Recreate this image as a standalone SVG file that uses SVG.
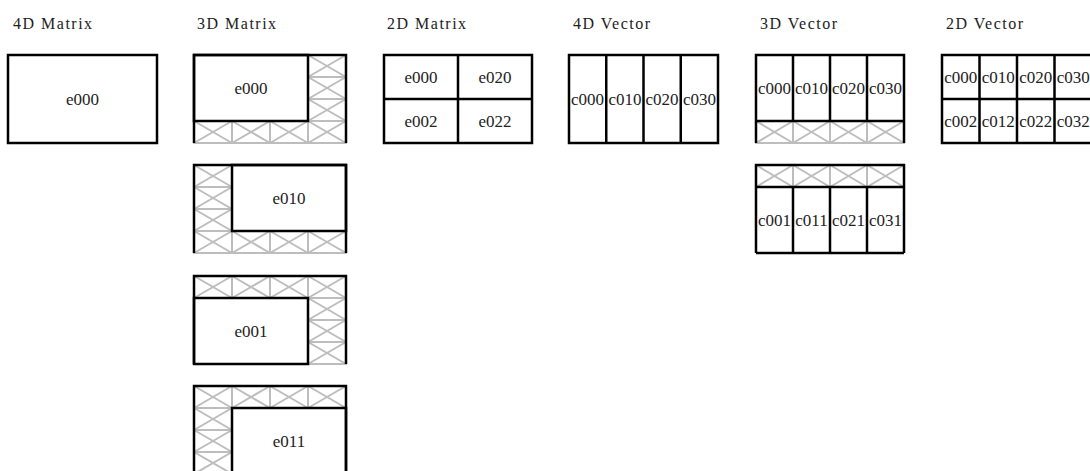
<svg xmlns="http://www.w3.org/2000/svg" xmlns:xlink="http://www.w3.org/1999/xlink" width="1090" height="471" viewBox="0 0 1090 471">
<style>
.bg{fill:#fff}
.k{fill:none;stroke:#000;stroke-width:2.5}
.g{fill:none;stroke:#bdbdbd;stroke-width:2}
.t{font-family:"Liberation Serif","DejaVu Serif",serif;font-size:16px;fill:#222;letter-spacing:1.5px}
.c{font-family:"Liberation Serif","DejaVu Serif",serif;font-size:17px;fill:#222;text-anchor:middle;dominant-baseline:central}
</style>
<defs>
<path id="h38" class="g" d="M0,0h38v22h-38zM0,0L38,22M38,0L0,22"/>
<path id="h37" class="g" d="M0,0h37v22h-37zM0,0L37,22M37,0L0,22"/>
</defs>
<rect class="bg" width="1090" height="471"/>

<g id="titles">
<text class="t" x="13" y="29">4D Matrix</text>
<text class="t" x="197" y="29">3D Matrix</text>
<text class="t" x="387" y="29">2D Matrix</text>
<text class="t" x="573" y="29">4D Vector</text>
<text class="t" x="760" y="29">3D Vector</text>
<text class="t" x="946" y="29">2D Vector</text>
</g>

<g id="m4">
<rect class="k" x="8" y="55" width="149" height="88"/>
<text class="c" x="82.5" y="99">e000</text>
</g>

<g id="m3-e000">
<use xlink:href="#h38" x="308" y="55"/><use xlink:href="#h38" x="308" y="77"/><use xlink:href="#h38" x="308" y="99"/>
<use xlink:href="#h38" x="194" y="121"/><use xlink:href="#h38" x="232" y="121"/><use xlink:href="#h38" x="270" y="121"/><use xlink:href="#h38" x="308" y="121"/>
<rect class="k" x="194" y="55" width="114" height="66"/>
<path class="k" d="M194,143V55H346V143"/>
<text class="c" x="251" y="88">e000</text>
</g>

<g id="m3-e010">
<use xlink:href="#h38" x="194" y="165"/><use xlink:href="#h38" x="194" y="187"/><use xlink:href="#h38" x="194" y="209"/>
<use xlink:href="#h38" x="194" y="231"/><use xlink:href="#h38" x="232" y="231"/><use xlink:href="#h38" x="270" y="231"/><use xlink:href="#h38" x="308" y="231"/>
<rect class="k" x="232" y="165" width="114" height="66"/>
<path class="k" d="M194,253V165H346V253"/>
<text class="c" x="289" y="198">e010</text>
</g>

<g id="m3-e001">
<use xlink:href="#h38" x="194" y="276"/><use xlink:href="#h38" x="232" y="276"/><use xlink:href="#h38" x="270" y="276"/><use xlink:href="#h38" x="308" y="276"/>
<use xlink:href="#h38" x="308" y="298"/><use xlink:href="#h38" x="308" y="320"/><use xlink:href="#h38" x="308" y="342"/>
<rect class="k" x="194" y="298" width="114" height="66"/>
<path class="k" d="M194,364V276H346V364"/>
<text class="c" x="251" y="331">e001</text>
</g>

<g id="m3-e011">
<use xlink:href="#h38" x="194" y="386"/><use xlink:href="#h38" x="232" y="386"/><use xlink:href="#h38" x="270" y="386"/><use xlink:href="#h38" x="308" y="386"/>
<use xlink:href="#h38" x="194" y="408"/><use xlink:href="#h38" x="194" y="430"/><use xlink:href="#h38" x="194" y="452"/>
<rect class="k" x="232" y="408" width="114" height="66"/>
<path class="k" d="M194,474V386H346V474"/>
<text class="c" x="289" y="441">e011</text>
</g>

<g id="m2">
<rect class="k" x="384" y="55" width="148" height="88"/>
<path class="k" d="M458,55V143M384,99H532"/>
<text class="c" x="421" y="77">e000</text>
<text class="c" x="495" y="77">e020</text>
<text class="c" x="421" y="121">e002</text>
<text class="c" x="495" y="121">e022</text>
</g>

<g id="v4">
<rect class="k" x="569" y="55" width="149" height="88"/>
<path class="k" d="M606.25,55V143M643.5,55V143M680.75,55V143"/>
<text class="c" x="587.6" y="99">c000</text>
<text class="c" x="624.9" y="99">c010</text>
<text class="c" x="662.1" y="99">c020</text>
<text class="c" x="699.4" y="99">c030</text>
</g>

<g id="v3-a">
<use xlink:href="#h37" x="756" y="121"/><use xlink:href="#h37" x="793" y="121"/><use xlink:href="#h37" x="830" y="121"/><use xlink:href="#h37" x="867" y="121"/>
<path class="k" d="M756,143V55H904V143M756,121H904M793,55V121M830,55V121M867,55V121"/>
<text class="c" x="774.5" y="88">c000</text>
<text class="c" x="811.5" y="88">c010</text>
<text class="c" x="848.5" y="88">c020</text>
<text class="c" x="885.5" y="88">c030</text>
</g>

<g id="v3-b">
<use xlink:href="#h37" x="756" y="165"/><use xlink:href="#h37" x="793" y="165"/><use xlink:href="#h37" x="830" y="165"/><use xlink:href="#h37" x="867" y="165"/>
<path class="k" d="M756,253V165H904V253M756,187H904M793,187V253M830,187V253M867,187V253M756,253H904"/>
<text class="c" x="774.5" y="220">c001</text>
<text class="c" x="811.5" y="220">c011</text>
<text class="c" x="848.5" y="220">c021</text>
<text class="c" x="885.5" y="220">c031</text>
</g>

<g id="v2">
<rect class="k" x="942" y="55" width="150" height="88"/>
<path class="k" d="M979.5,55V143M1017,55V143M1054.5,55V143M942,99H1092"/>
<text class="c" x="960.75" y="77">c000</text>
<text class="c" x="998.25" y="77">c010</text>
<text class="c" x="1035.75" y="77">c020</text>
<text class="c" x="1073.25" y="77">c030</text>
<text class="c" x="960.75" y="121">c002</text>
<text class="c" x="998.25" y="121">c012</text>
<text class="c" x="1035.75" y="121">c022</text>
<text class="c" x="1073.25" y="121">c032</text>
</g>
</svg>
